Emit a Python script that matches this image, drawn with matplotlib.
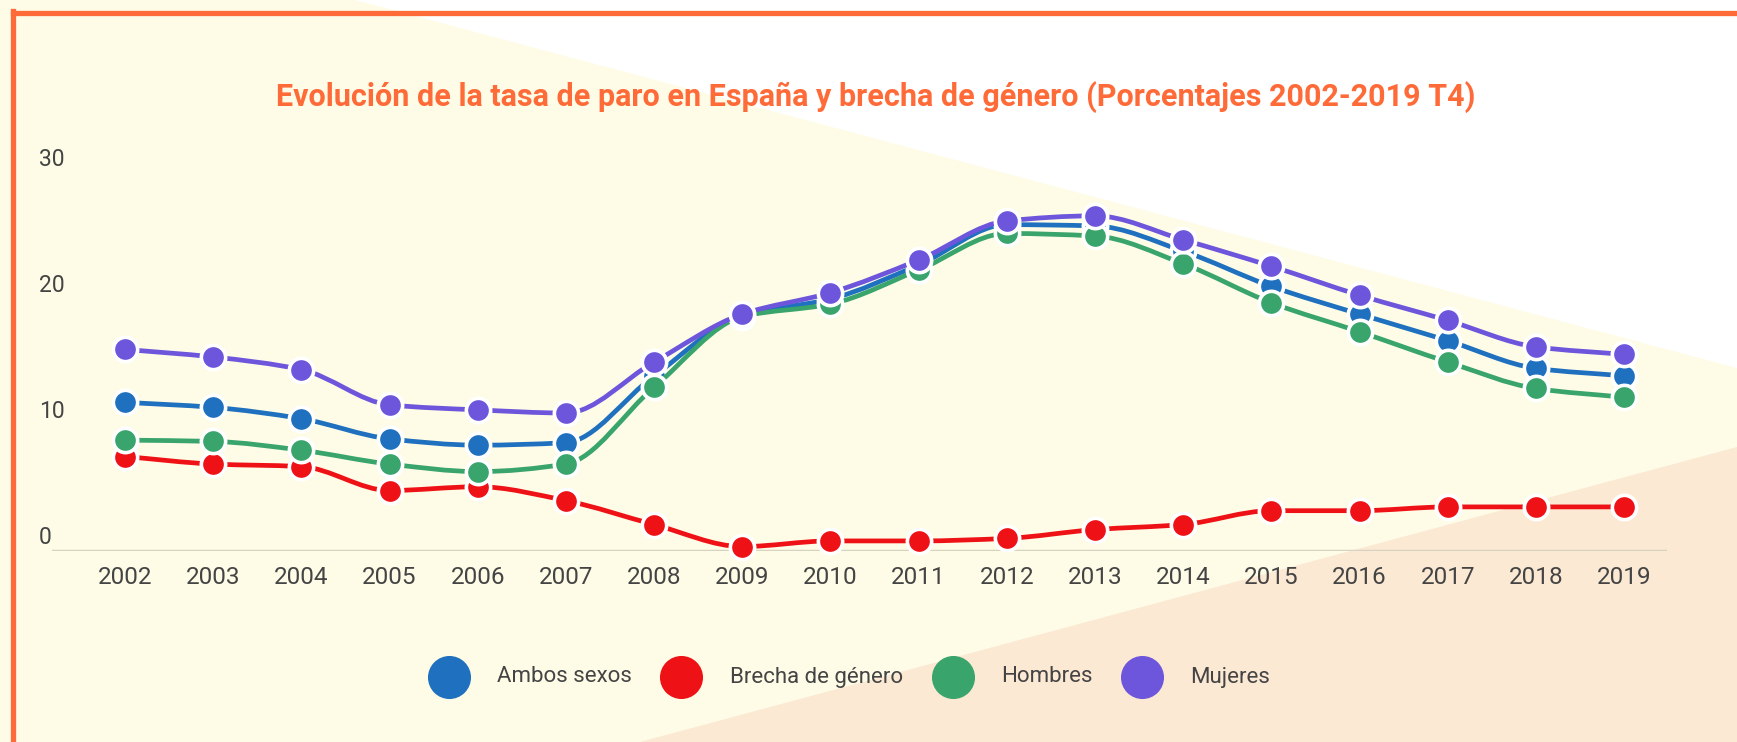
import numpy as np
import matplotlib
matplotlib.use('Agg')
import matplotlib.pyplot as plt
from matplotlib.path import Path
from matplotlib.patches import PathPatch, Polygon
from matplotlib.lines import Line2D

plt.rcParams['font.family'] = ['Roboto', 'DejaVu Sans']

# data (tasa de paro, % , cuarto trimestre)
years = list(range(2002, 2020))
ambos = [11.8, 11.4, 10.5, 8.9, 8.4, 8.6, 13.9, 18.7, 20.0, 22.7, 25.9, 25.8, 23.8, 21.0, 18.8, 16.7, 14.5, 13.9]
brecha = [7.5, 6.9, 6.7, 4.8, 5.1, 4.0, 2.1, 0.35, 0.8, 0.8, 1.0, 1.7, 2.1, 3.2, 3.2, 3.5, 3.5, 3.5]
hombres = [8.8, 8.7, 8.0, 6.9, 6.3, 6.9, 13.0, 18.6, 19.6, 22.3, 25.2, 25.0, 22.8, 19.7, 17.4, 15.0, 12.9, 12.2]
mujeres = [16.0, 15.4, 14.4, 11.6, 11.2, 10.95, 15.0, 18.8, 20.5, 23.1, 26.2, 26.6, 24.7, 22.6, 20.3, 18.3, 16.2, 15.6]

series_names = ['Ambos sexos', 'Brecha de género', 'Hombres', 'Mujeres']
series_vals = [ambos, brecha, hombres, mujeres]
colors = ['#1f70bf', '#ee1116', '#39a46c', '#6e56dc']
yticks = [0, 10, 20, 30]

title = 'Evolución de la tasa de paro en España y brecha de género (Porcentajes 2002-2019 T4)'
orange = '#ff6b38'
cream = '#fefce6'
peach = '#fbe9d4'
txt_gray = '#444444'

W, H = 1737, 742
fig = plt.figure(figsize=(W / 100, H / 100), dpi=100)
fig.patch.set_facecolor(cream)


def fx(px):
    return px / W


def fy(py):
    return 1 - py / H


# background shapes
fig.add_artist(Polygon([(fx(355), fy(0)), (fx(W), fy(0)), (fx(W), fy(368))],
                       closed=True, facecolor='white', edgecolor='none',
                       transform=fig.transFigure, zorder=0))
fig.add_artist(Polygon([(fx(640), fy(H)), (fx(W), fy(447)), (fx(W), fy(H))],
                       closed=True, facecolor=peach, edgecolor='none',
                       transform=fig.transFigure, zorder=0))
# orange frame
fig.add_artist(Line2D([fx(13), fx(W)], [fy(13), fy(13)], color=orange, lw=3.8,
                      transform=fig.transFigure, zorder=1))
fig.add_artist(Line2D([fx(13), fx(13)], [fy(11), fy(H)], color=orange, lw=3.8,
                      transform=fig.transFigure, zorder=1))

# axes: left/right = baseline ends, bottom = zero line, top = 30
x0, x1 = 52, 1667
y_zero, px_per_unit = 551, 12.6
ax = fig.add_axes([fx(x0), fy(y_zero), (x1 - x0) / W, 30 * px_per_unit / H])
ax.patch.set_alpha(0)
step = 88.18
ax.set_xlim(2002 - (125 - x0) / step, 2002 + (x1 - 125) / step)
ax.set_ylim(0, 30)
for s in ax.spines.values():
    s.set_visible(False)
ax.set_xticks([])
ax.set_yticks([])
ax.axhline(0, color='#d6d3c0', lw=2.5, zorder=1)

for v in yticks:
    ax.annotate(str(v), xy=(0, v), xycoords=('axes fraction', 'data'),
                xytext=(-13, 13), textcoords='offset pixels',
                ha='left', va='center', fontsize=16.5, color=txt_gray)
for yr in years:
    ax.annotate(str(yr), xy=(yr, 0), xycoords='data',
                xytext=(0, -27), textcoords='offset pixels',
                ha='center', va='center', fontsize=17.5, color=txt_gray)


def smooth_path(xs, ys):
    # monotone cubic (Fritsch-Carlson) as bezier segments
    xs = np.asarray(xs, float)
    ys = np.asarray(ys, float)
    n = len(xs)
    d = np.diff(ys) / np.diff(xs)
    m = np.zeros(n)
    m[0], m[-1] = d[0], d[-1]
    for i in range(1, n - 1):
        if d[i - 1] * d[i] <= 0:
            m[i] = 0
        else:
            m[i] = 2 / (1 / d[i - 1] + 1 / d[i])
    verts = [(xs[0], ys[0])]
    codes = [Path.MOVETO]
    for i in range(n - 1):
        h = xs[i + 1] - xs[i]
        verts += [(xs[i] + h / 3, ys[i] + m[i] * h / 3),
                  (xs[i + 1] - h / 3, ys[i + 1] - m[i + 1] * h / 3),
                  (xs[i + 1], ys[i + 1])]
        codes += [Path.CURVE4] * 3
    return Path(verts, codes)


for k, (name, vals, c) in enumerate(zip(series_names, series_vals, colors)):
    z = 3 + k * 2
    ax.add_patch(PathPatch(smooth_path(years, vals), facecolor='none', edgecolor=c,
                           lw=3.4, zorder=z, clip_on=False, capstyle='round'))
    ax.plot(years, vals, linestyle='none', marker='o', markersize=17.5,
            markerfacecolor=c, markeredgecolor='white', markeredgewidth=2.6,
            zorder=z + 1, clip_on=False)

fig.text(fx(876), fy(97), title, ha='center', va='center', fontsize=22,
         fontweight='bold', color=orange)

# legend
leg_dot_x = [449, 681, 953, 1142]
leg_txt_x = [497, 730, 1001, 1190]
leg_y = 677
for name, c, dx, tx in zip(series_names, colors, leg_dot_x, leg_txt_x):
    fig.add_artist(Line2D([fx(dx)], [fy(leg_y)], marker='o', markersize=31,
                          markerfacecolor=c, markeredgecolor='none',
                          transform=fig.transFigure))
    fig.text(fx(tx), fy(leg_y), name, ha='left', va='center', fontsize=16,
             color=txt_gray)

fig.savefig('out.png', dpi=100, facecolor=fig.get_facecolor())
